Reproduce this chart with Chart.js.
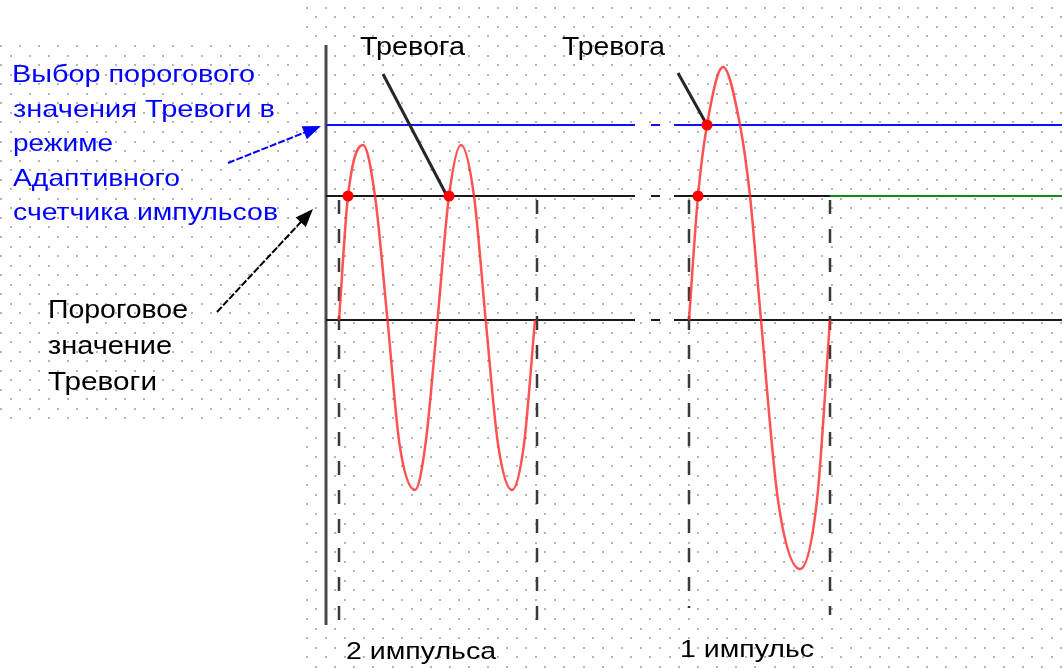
<!DOCTYPE html>
<html>
<head>
<meta charset="utf-8">
<script src="https://cdn.jsdelivr.net/npm/chart.js@4.4.1/dist/chart.umd.min.js"></script>
<style>
  body { margin: 0; background: #fff; }
  canvas { display: block; }
</style>
</head>
<body>
<canvas id="chart" width="1062" height="669"></canvas>
<script>
// time axis in arbitrary units, amplitude in arbitrary units (0 = baseline)
const alarmLevel = 1.24;      // black threshold
const adaptiveLevel = 1.95;   // blue threshold (adaptive counter)

// first burst: two pulses
const burst1X = [1.3, 2.2, 3.7, 4.9, 6.15, 7.35, 8.9, 9.95, 11.15, 12.3, 13.5, 14.8, 15.97, 17.2, 18.6, 19.8, 20.9];
const burst1Y = [0, 1.24, 1.75, 1.24, 0, -1.24, -1.70, -1.24, 0, 1.24, 1.75, 1.24, 0, -1.24, -1.70, -1.24, 0];

// second burst: one pulse
const burst2X = [36.3, 37.2, 38.1, 39.7, 41.4, 42.4, 43.5, 45.2, 47.4, 49.1, 50.4];
const burst2Y = [0, 1.24, 1.95, 2.53, 1.95, 1.24, 0, -1.8, -2.49, -1.8, 0];

// horizontal line pieces (broken near the middle)
const lineBreaks = [0, 30.9, 32.5, 33.4, 34.8];
const lineEnd = 73.6;
const greenStart = 50.4;

// dashed markers of pulse start / end
const markerX = [1.3, 21.1, 36.3, 50.4];
const markerBottom = [-3.06, -3.06, -2.88, -2.95];

// alarm points
const alarmX = [2.2, 12.3, 38.1, 37.2];
const alarmY = [1.24, 1.24, 1.95, 1.24];

// leader lines from "Тревога" labels
const leaderFrom = [[5.7, 2.46], [35.2, 2.47]];
const leaderTo = [[12.1, 1.24], [38.1, 1.95]];

const axisTop = 2.75;
const axisBottom = -3.05;

function pts(xs, ys) { return xs.map((x, i) => ({ x: x, y: ys[i] })); }

function brokenLine(y, stop) {
  return [
    { x: lineBreaks[0], y: y }, { x: lineBreaks[1], y: y }, { x: lineBreaks[1], y: null },
    { x: lineBreaks[2], y: y }, { x: lineBreaks[3], y: y }, { x: lineBreaks[3], y: null },
    { x: lineBreaks[4], y: y }, { x: stop, y: y }
  ];
}

const datasets = [];
function line(data, color, width, order, extra) {
  datasets.push(Object.assign({
    data: data, showLine: true, borderColor: color, borderWidth: width,
    pointRadius: 0, spanGaps: false, clip: false, order: order
  }, extra || {}));
}

line([{ x: 0, y: axisTop }, { x: 0, y: axisBottom }], '#4a4a4a', 3, 9);
line(brokenLine(adaptiveLevel, lineEnd), '#1010ff', 2, 8);
line(brokenLine(alarmLevel, greenStart), '#1a1a1a', 2, 8);
line([{ x: greenStart, y: alarmLevel }, { x: lineEnd, y: alarmLevel }], '#138a13', 2, 8);
line(brokenLine(0, lineEnd), '#1a1a1a', 2, 8);
markerX.forEach((x, i) => {
  line([{ x: x, y: alarmLevel - 0.04 }, { x: x, y: markerBottom[i] }], '#3a3a3a', 2.5, 7, { borderDash: [14, 15] });
});
line(pts(burst1X, burst1Y), 'rgba(255,40,40,0.8)', 2.5, 5, { cubicInterpolationMode: 'monotone' });
line(pts(burst2X, burst2Y), 'rgba(255,40,40,0.8)', 2.5, 5, { cubicInterpolationMode: 'monotone' });
leaderFrom.forEach((p, i) => {
  line([{ x: p[0], y: p[1] }, { x: leaderTo[i][0], y: leaderTo[i][1] }], '#262626', 3, 4);
});
datasets.push({
  data: pts(alarmX, alarmY), showLine: false, pointRadius: 5.5,
  pointBackgroundColor: '#ff0000', pointBorderWidth: 0, clip: false, order: 1
});

function fitText(ctx, str, x, base, width, color, size) {
  ctx.save();
  ctx.font = size + 'px "Liberation Sans", Arial, sans-serif';
  const w = ctx.measureText(str).width;
  ctx.translate(x, base);
  ctx.scale(width / w, 1);
  ctx.fillStyle = color;
  ctx.textBaseline = 'alphabetic';
  ctx.fillText(str, 0, 0);
  ctx.restore();
}

function arrow(ctx, x1, y1, x2, y2, color) {
  const a = Math.atan2(y2 - y1, x2 - x1);
  ctx.save();
  ctx.strokeStyle = color;
  ctx.fillStyle = color;
  ctx.lineWidth = 2;
  ctx.setLineDash([7, 2]);
  ctx.beginPath();
  ctx.moveTo(x1, y1);
  ctx.lineTo(x2 - 12 * Math.cos(a), y2 - 12 * Math.sin(a));
  ctx.stroke();
  ctx.setLineDash([]);
  ctx.beginPath();
  ctx.moveTo(x2, y2);
  ctx.lineTo(x2 - 18 * Math.cos(a) + 7 * Math.sin(a), y2 - 18 * Math.sin(a) - 7 * Math.cos(a));
  ctx.lineTo(x2 - 18 * Math.cos(a) - 7 * Math.sin(a), y2 - 18 * Math.sin(a) + 7 * Math.cos(a));
  ctx.closePath();
  ctx.fill();
  ctx.restore();
}

const dotGrid = {
  id: 'dotGrid',
  beforeDraw(chart) {
    const ctx = chart.ctx;
    ctx.save();
    ctx.fillStyle = '#fff';
    ctx.fillRect(0, 0, chart.width, chart.height);
    ctx.fillStyle = '#b4b4b4';
    const dx = 19.1, dy = 9.55;
    for (let r = 0; r * dy < chart.height; r++) {
      const y = 6.8 + r * dy;
      const off = (r % 2 === 0) ? 0 : dx / 2;
      for (let x = off; x < chart.width; x += dx) {
        if (x < 305 && (y < 42 || y > 425)) continue;
        ctx.fillRect(Math.round(x), Math.round(y), 2, 2);
      }
    }
    ctx.restore();
  }
};

const labels = {
  id: 'labels',
  afterDraw(chart) {
    const ctx = chart.ctx;
    const blue = '#0000ff', black = '#000';
    fitText(ctx, 'Тревога', 360, 55, 105, black, 26);
    fitText(ctx, 'Тревога', 562, 55, 103, black, 26);

    fitText(ctx, 'Выбор порогового', 12, 82, 243, blue, 24);
    fitText(ctx, 'значения Тревоги в', 13, 117, 262, blue, 24);
    fitText(ctx, 'режиме', 13, 151, 100, blue, 24);
    fitText(ctx, 'Адаптивного', 13, 186, 167, blue, 24);
    fitText(ctx, 'счетчика импульсов', 13, 220, 265, blue, 24);

    fitText(ctx, 'Пороговое', 48, 318, 140, black, 26);
    fitText(ctx, 'значение', 48, 354, 124, black, 26);
    fitText(ctx, 'Тревоги', 48, 390, 109, black, 26);

    fitText(ctx, '2 импульса', 346, 659, 150, black, 24);
    fitText(ctx, '1 импульс', 680, 657, 134, black, 24);

    arrow(ctx, 228, 163, 321, 126, '#0000ff');
    arrow(ctx, 217, 312, 313, 209, '#000');
  }
};

new Chart(document.getElementById('chart'), {
  type: 'scatter',
  data: { datasets: datasets },
  options: {
    responsive: false,
    animation: false,
    events: [],
    layout: { padding: 0, autoPadding: false },
    plugins: { legend: { display: false }, tooltip: { enabled: false } },
    scales: {
      x: { type: 'linear', min: -32.6, max: 73.6, display: false },
      y: { type: 'linear', min: -3.49, max: 3.2, display: false }
    }
  },
  plugins: [dotGrid, labels]
});
</script>
</body>
</html>
